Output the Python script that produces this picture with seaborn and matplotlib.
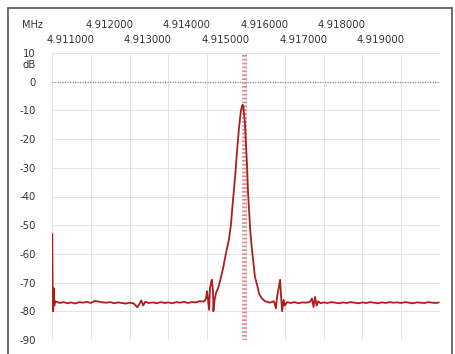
import matplotlib
matplotlib.use("Agg")
from matplotlib import pyplot as plt
from matplotlib import transforms
import pandas as pd
import seaborn as sns

# spectrum trace: frequency (MHz) and level (dB)
freq_mhz = [
    4.91100, 4.911005, 4.91101, 4.91102, 4.91103, 4.91105, 4.91106, 4.91108,
    4.91110, 4.91120, 4.91130, 4.91140, 4.91150, 4.91160, 4.91170, 4.91180,
    4.91190, 4.91200, 4.91210, 4.91220, 4.91230, 4.91240, 4.91250, 4.91260,
    4.91270, 4.91280, 4.91290, 4.91300, 4.91310, 4.91320, 4.91325, 4.91330,
    4.91335, 4.91340, 4.91350, 4.91360, 4.91370, 4.91380, 4.91390, 4.91400,
    4.91410, 4.91420, 4.91430, 4.91440, 4.91450, 4.91460, 4.91470, 4.91480,
    4.91492, 4.91497, 4.914995, 4.91502, 4.91505, 4.91507, 4.91510, 4.91512,
    4.91515, 4.91516, 4.91519, 4.91523, 4.91528, 4.91533, 4.91541, 4.91548,
    4.91556, 4.91561, 4.91566, 4.91572, 4.91577, 4.91582, 4.91587, 4.91591,
    4.91593, 4.91597, 4.91600, 4.91603, 4.91605, 4.91608, 4.91611, 4.91615,
    4.91619, 4.91623, 4.91629, 4.91634, 4.91641, 4.91649, 4.91662, 4.91672,
    4.91677, 4.91680, 4.91684, 4.91688, 4.91690, 4.91693, 4.91697, 4.91700,
    4.91706, 4.91715, 4.91725, 4.91735, 4.91745, 4.91755, 4.91765, 4.91770,
    4.91774, 4.91778, 4.91782, 4.91786, 4.91792, 4.91800, 4.91810, 4.91820,
    4.91830, 4.91840, 4.91850, 4.91860, 4.91870, 4.91880, 4.91890, 4.91900,
    4.91910, 4.91920, 4.91930, 4.91940, 4.91950, 4.91960, 4.91970, 4.91980,
    4.91990, 4.92000, 4.92010, 4.92020, 4.92030, 4.92040, 4.92050, 4.92060,
    4.92070, 4.92080, 4.92090, 4.92097,
]
level_db = [
    -77.0, -53.0, -62.0, -76.0, -80.0, -72.0, -78.0, -76.5,
    -76.6, -77.1, -76.8, -77.2, -76.9, -77.3, -76.8, -77.0,
    -76.7, -77.1, -76.4, -76.6, -76.9, -77.0, -76.8, -77.2,
    -76.9, -77.1, -77.3, -77.0, -77.2, -78.6, -77.5, -76.2,
    -78.0, -76.7, -77.1, -76.9, -77.2, -76.8, -77.1, -76.9,
    -77.2, -76.8, -77.0, -76.7, -77.1, -76.8, -76.9, -76.5,
    -76.6, -75.5, -73.0, -76.0, -79.5, -72.0, -70.0, -69.0,
    -73.0, -80.0, -76.0, -73.5, -72.0, -69.5, -65.0, -60.0,
    -55.0, -50.0, -42.0, -33.0, -24.0, -16.0, -10.0, -8.0,
    -8.5, -14.0, -22.0, -30.0, -38.0, -45.0, -52.0, -58.0,
    -63.0, -68.0, -71.0, -74.0, -75.5, -76.5, -77.0, -76.5,
    -79.0, -75.0, -72.0, -69.0, -74.0, -80.0, -76.0, -78.0,
    -76.8, -77.1, -76.8, -77.2, -76.9, -77.0, -76.7, -75.5,
    -78.5, -75.0, -78.0, -76.5, -77.2, -76.9, -77.1, -76.8,
    -77.0, -77.2, -76.9, -77.1, -76.8, -77.0, -77.2, -76.9,
    -77.1, -76.8, -77.0, -77.2, -76.9, -77.1, -76.8, -77.0,
    -76.9, -77.1, -76.8, -77.0, -77.2, -76.9, -77.0, -77.1,
    -76.8, -77.0, -77.1, -76.9,
]

odd_ticks = [4.911, 4.913, 4.915, 4.917, 4.919]
even_ticks = [4.912, 4.914, 4.916, 4.918]
grid_x = [4.911, 4.912, 4.913, 4.914, 4.915, 4.916, 4.917, 4.918, 4.919, 4.920, 4.921]
db_ticks = [10, 0, -10, -20, -30, -40, -50, -60, -70, -80, -90]
marker_mhz = 4.91595

sns.set_style("white")
plt.rcParams["font.family"] = ["DejaVu Sans"]

df = pd.DataFrame({"freq": freq_mhz, "level": level_db})

fig = plt.figure(figsize=(4.56, 3.54), dpi=100)
ax = fig.add_axes([52 / 456, 1 - 340 / 354, 388 / 456, 287 / 354])

ax.set_xlim(4.911, 4.921)
ax.set_ylim(-90, 10)

# grid
for g in grid_x:
    ax.axvline(g, color="#e4e4e4", lw=0.7, zorder=0)
for d in db_ticks:
    if d == 0:
        ax.axhline(d, color="#8a8a8a", lw=0.9, ls=(0, (1, 1)), zorder=1)
    else:
        ax.axhline(d, color="#e4e4e4", lw=0.7, zorder=0)

# marker
ax.axvline(marker_mhz, color="#e08c8c", lw=3.5, ls=(0, (0.35, 0.45)), zorder=1)

sns.lineplot(data=df, x="freq", y="level", sort=False, ax=ax,
             color="#b01d1d", lw=1.3, zorder=3)

for s in ax.spines.values():
    s.set_visible(False)
ax.set_xlabel("")
ax.set_ylabel("")
ax.set_xticks([])
ax.set_yticks(db_ticks)
ax.set_yticklabels([str(d) for d in db_ticks], fontsize=7.3, color="#333333")
ax.tick_params(axis="y", length=0, pad=11.5)

# staggered frequency labels above the plot
trans = transforms.blended_transform_factory(ax.transData, ax.transAxes)
shift = transforms.ScaledTranslation(-4 / 72, 0, fig.dpi_scale_trans)
for t in even_ticks:
    ax.text(t, 1 + 28 / 287, f"{t:.6f}", transform=trans + shift,
            ha="left", va="center", fontsize=7.3, color="#333333")
for t in odd_ticks:
    ax.text(t, 1 + 13 / 287, f"{t:.6f}", transform=trans + shift,
            ha="left", va="center", fontsize=7.3, color="#333333")

fig.text(22 / 456, 1 - 25 / 354, "MHz", ha="left", va="center",
         fontsize=7, color="#333333")
fig.text(36 / 456, 1 - 65 / 354, "dB", ha="right", va="center",
         fontsize=7.3, color="#333333")

# outer frame
frame_kw = dict(color="#555555", lw=1.2, transform=fig.transFigure)
fig.add_artist(plt.Line2D([8 / 456, 8 / 456], [0, 1 - 8 / 354], **frame_kw))
fig.add_artist(plt.Line2D([8 / 456, 452 / 456], [1 - 8 / 354, 1 - 8 / 354], **frame_kw))
fig.add_artist(plt.Line2D([452 / 456, 452 / 456], [0, 1 - 8 / 354], **frame_kw))

fig.savefig("out.png", dpi=100)
